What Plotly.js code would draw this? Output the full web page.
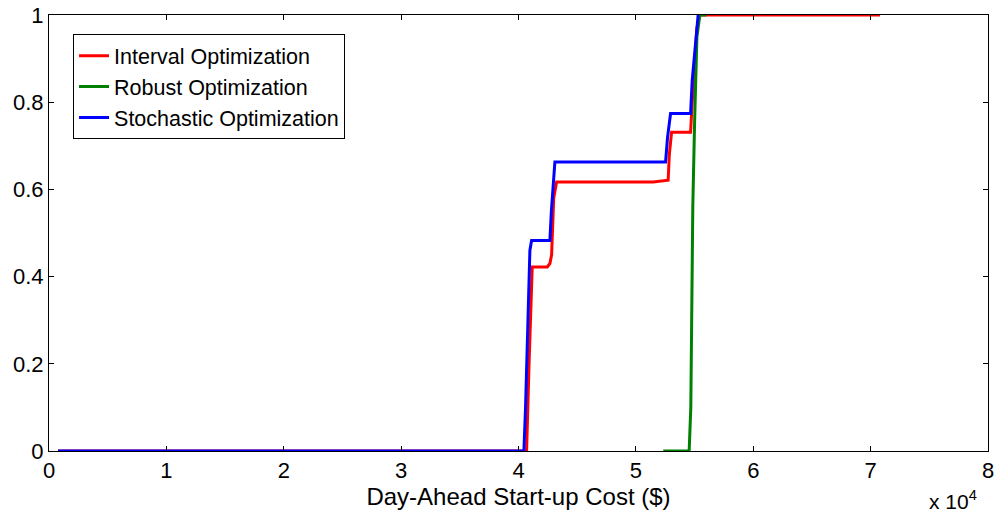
<!DOCTYPE html>
<html>
<head>
<meta charset="utf-8">
<script src="https://cdn.plot.ly/plotly-3.0.1.min.js"></script>
<style>html,body{margin:0;padding:0;background:#fff;} #chart{width:998px;height:518px;}</style>
</head>
<body>
<div id="chart"></div>
<script>
const intervalX = [770, 40690, 40900, 41170, 42450, 42675, 42820, 43000, 43245, 51475, 52750, 52850, 53040, 54660, 54800, 55200, 55450, 70800];
const intervalY = [0, 0, 0.2, 0.422, 0.422, 0.43, 0.45, 0.58, 0.617, 0.617, 0.621, 0.68, 0.731, 0.731, 0.8, 0.97, 1, 1];

const robustX = [52330, 54540, 54680, 54800, 54850, 55000, 55200, 55450, 56000];
const robustY = [0, 0, 0.1, 0.49, 0.56, 0.75, 0.95, 1, 1];

const stochasticX = [770, 40460, 40600, 40970, 41115, 42675, 42800, 43100, 52530, 52700, 52955, 54660, 54800, 55170, 55305];
const stochasticY = [0, 0, 0.1, 0.46, 0.483, 0.483, 0.55, 0.663, 0.663, 0.72, 0.774, 0.774, 0.85, 0.97, 1];

const seriesNames = ['Interval Optimization', 'Robust Optimization', 'Stochastic Optimization'];
const xTickVals = [0, 10000, 20000, 30000, 40000, 50000, 60000, 70000, 80000];
const xTickText = ['0', '1', '2', '3', '4', '5', '6', '7', '8'];
const yTickVals = [0, 0.2, 0.4, 0.6, 0.8, 1];
const yTickText = ['0', '0.2', '0.4', '0.6', '0.8', '1'];

const font = 'Arial, "Liberation Sans", sans-serif';

const traces = [
  {x: intervalX, y: intervalY, name: seriesNames[0], mode: 'lines', line: {color: '#ff0000', width: 3}},
  {x: robustX, y: robustY, name: seriesNames[1], mode: 'lines', line: {color: '#008000', width: 3}},
  {x: stochasticX, y: stochasticY, name: seriesNames[2], mode: 'lines', line: {color: '#0000ff', width: 3}}
];

const layout = {
  width: 998, height: 518,
  margin: {l: 49, r: 10, t: 15, b: 67},
  paper_bgcolor: '#fff', plot_bgcolor: '#fff',
  font: {family: font, size: 22, color: '#000'},
  showlegend: true,
  legend: {x: 0.0256, y: 0.956, xanchor: 'left', yanchor: 'top',
    bordercolor: '#000', borderwidth: 1, bgcolor: '#fff',
    font: {family: font, size: 21.5, color: '#000'}, tracegroupgap: 0},
  xaxis: {
    range: [0, 80000], tickvals: xTickVals, ticktext: xTickText,
    ticks: 'inside', ticklen: 5, tickcolor: '#000', mirror: 'allticks',
    showline: true, linecolor: '#000', linewidth: 1, showgrid: false, zeroline: false,
    tickfont: {family: font, size: 22},
    title: {text: 'Day-Ahead Start-up Cost ($)', font: {family: font, size: 24}, standoff: 0}
  },
  yaxis: {
    range: [0, 1], tickvals: yTickVals, ticktext: yTickText,
    ticks: 'inside', ticklen: 5, tickcolor: '#000', mirror: 'allticks',
    showline: true, linecolor: '#000', linewidth: 1, showgrid: false, zeroline: false,
    tickfont: {family: font, size: 22}
  },
  annotations: [{
    xref: 'paper', yref: 'paper', x: 0.99, y: -0.146, xanchor: 'right', yanchor: 'bottom',
    text: 'x 10<sup>4</sup>', showarrow: false, font: {family: font, size: 21, color: '#000'}
  }]
};

Plotly.newPlot('chart', traces, layout, {displayModeBar: false, staticPlot: true});
</script>
</body>
</html>
